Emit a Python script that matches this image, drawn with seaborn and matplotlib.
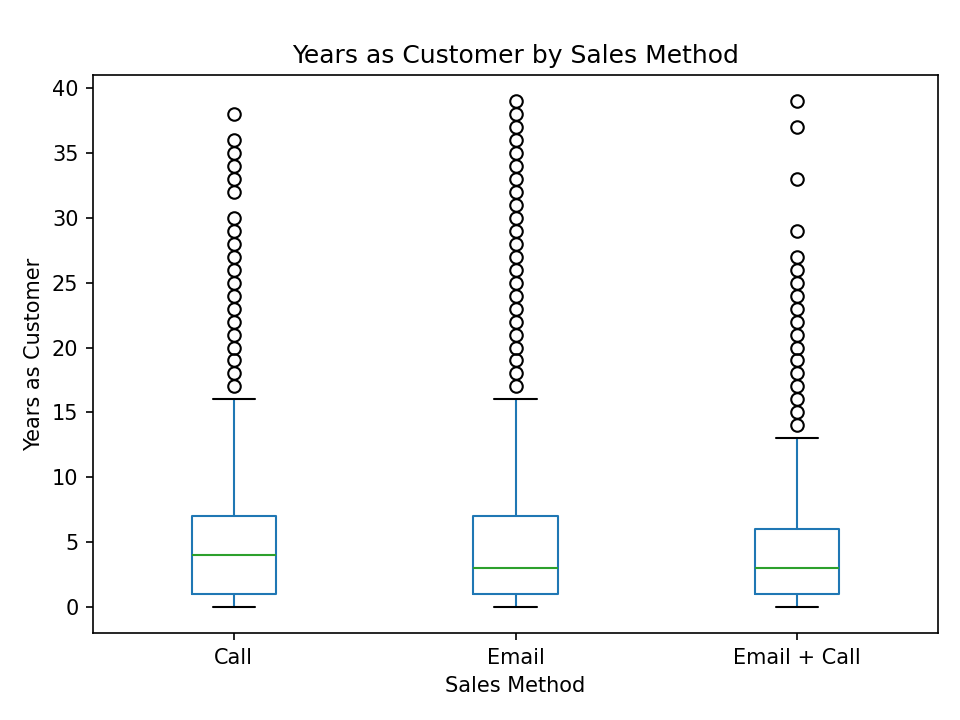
import matplotlib
matplotlib.use("Agg")
import matplotlib.pyplot as plt
import seaborn as sns

# box statistics
methods = ["Call", "Email", "Email + Call"]
whis_low = [0, 0, 0]
q1 = [1, 1, 1]
medians = [4, 3, 3]
q3 = [7, 7, 6]
whis_high = [16, 16, 13]
call_outliers = [17, 18, 19, 20, 21, 22, 23, 24, 25, 26, 27, 28, 29, 30,
                 32, 33, 34, 35, 36, 38]
email_outliers = [17, 18, 19, 20, 21, 22, 23, 24, 25, 26, 27, 28, 29, 30,
                  31, 32, 33, 34, 35, 36, 37, 38, 39]
both_outliers = [14, 15, 16, 17, 18, 19, 20, 21, 22, 23, 24, 25, 26, 27,
                 29, 33, 37, 39]
outliers = [call_outliers, email_outliers, both_outliers]

sns.set_style("ticks", {"axes.edgecolor": "black", "text.color": "black",
                        "axes.labelcolor": "black", "xtick.color": "black",
                        "ytick.color": "black"})
plt.rcParams["font.family"] = ["DejaVu Sans"]
pal = sns.color_palette("tab10")

stats = []
for i, m in enumerate(methods):
    stats.append({"label": m, "whislo": whis_low[i], "q1": q1[i],
                  "med": medians[i], "q3": q3[i], "whishi": whis_high[i],
                  "fliers": outliers[i]})

fig = plt.figure(figsize=(6.4, 4.8), dpi=150)
ax = fig.add_axes([93 / 960, 1 - 633 / 720, 845 / 960, 558 / 720])
ax.bxp(stats, positions=[1, 2, 3], widths=0.3,
       boxprops=dict(color=pal[0]), whiskerprops=dict(color=pal[0]),
       medianprops=dict(color=pal[2]), capprops=dict(color="black"),
       flierprops=dict(marker="o", markerfacecolor="none",
                       markeredgecolor="black"))
ax.set_xlim(0.5, 3.5)
ax.set_ylim(-2, 41)
ax.set_yticks(range(0, 41, 5))
ax.set_title("Years as Customer by Sales Method", fontsize=12)
ax.set_xlabel("Sales Method", fontsize=10)
ax.set_ylabel("Years as Customer", fontsize=10)
ax.tick_params(labelsize=10, length=3.5, width=0.8)
for s in ax.spines.values():
    s.set_linewidth(0.8)

fig.savefig("out.png", dpi=150)
